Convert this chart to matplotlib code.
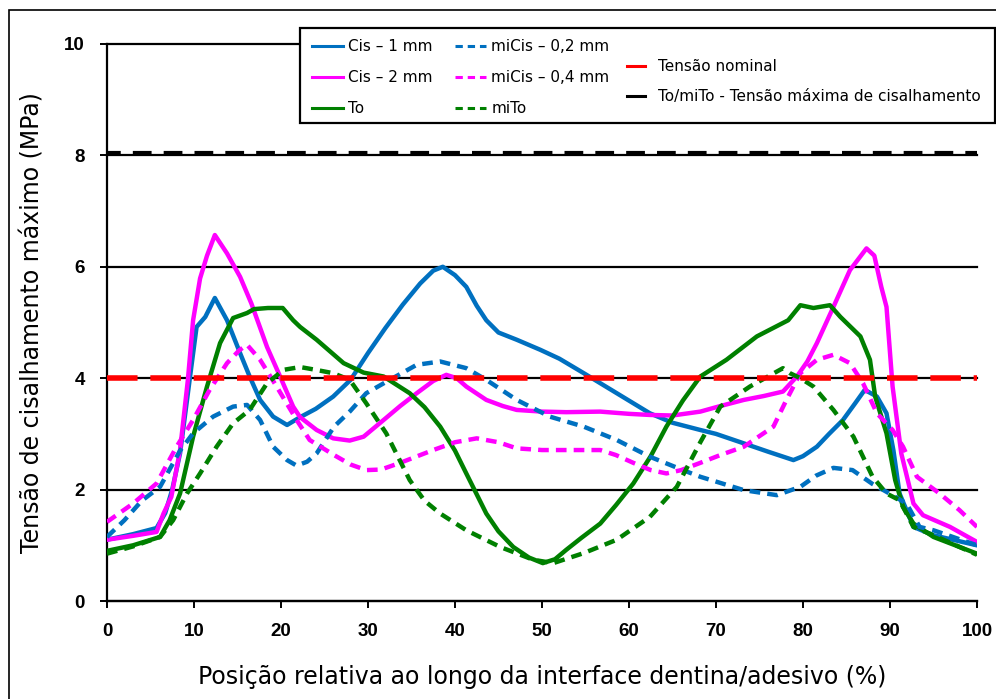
import matplotlib
matplotlib.use('Agg')
import matplotlib.pyplot as plt
from matplotlib.lines import Line2D
from matplotlib.patches import Rectangle

# shear stress along the dentin/adhesive interface
cis1_x = [0, 3, 5.7, 6.7, 7.5, 8.4, 9.5, 10.3, 11.3, 12.4, 13.8, 15.3, 16.4, 17.6, 19.1,
          20.7, 22.2, 24, 26, 28, 30, 32, 34, 36, 37.5, 38.6, 40, 41.3, 42.5, 43.6, 45,
          47.1, 49.8, 52, 54.8, 58.6, 62.4, 65, 68.2, 70, 73.2, 76, 78.9, 80, 81.6, 83,
          84.6, 86, 87.1, 88.5, 89.6, 90.4, 91.1, 92.7, 95, 100]
cis1_y = [1.1, 1.2, 1.31, 1.58, 2.0, 2.65, 3.97, 4.92, 5.1, 5.44, 5.04, 4.45, 4.03, 3.61, 3.31,
          3.16, 3.3, 3.45, 3.67, 3.97, 4.45, 4.9, 5.32, 5.7, 5.93, 6.0, 5.85, 5.64, 5.3, 5.04, 4.82,
          4.69, 4.51, 4.35, 4.09, 3.73, 3.37, 3.2, 3.07, 3.0, 2.83, 2.68, 2.53, 2.6, 2.77, 3.0,
          3.25, 3.55, 3.79, 3.67, 3.37, 2.7, 1.93, 1.33, 1.18, 1.0]

cis2_x = [0, 3, 5.7, 6.5, 7.4, 8.4, 9.3, 9.9, 10.7, 11.5, 12.4, 13.8, 15.3, 16.6, 18.4,
          19.9, 21.4, 22.2, 24.1, 26, 27.9, 29.5, 31.8, 33.7, 35.6, 37.5, 39.0, 40.2, 41.3,
          43.6, 45.5, 47.1, 50, 52.8, 56.7, 60, 62.4, 65, 68.2, 70.5, 73.2, 75.5, 77.7, 79.3,
          80.5, 81.6, 83.5, 85.4, 87.3, 88.2, 89.0, 89.6, 90.3, 91.3, 92.7, 93.8, 96.9, 100]
cis2_y = [1.1, 1.17, 1.24, 1.57, 1.87, 2.71, 3.97, 5.04, 5.79, 6.2, 6.57, 6.24, 5.82, 5.34, 4.56,
          4.03, 3.49, 3.3, 3.07, 2.92, 2.88, 2.95, 3.25, 3.5, 3.73, 3.95, 4.06, 4.0, 3.85,
          3.61, 3.5, 3.43, 3.4, 3.39, 3.4, 3.36, 3.34, 3.33, 3.4, 3.5, 3.61, 3.68, 3.76, 4.03,
          4.3, 4.63, 5.28, 5.94, 6.33, 6.2, 5.64, 5.28, 3.85, 2.65, 1.75, 1.54, 1.33, 1.06]

to_x = [0, 3, 6.1, 7.2, 8.4, 9.9, 11.5, 13.0, 14.5, 16.1, 16.9, 18.5, 20.2, 21.4, 22.2, 24.1,
        27.2, 29.5, 31.8, 34.8, 36.5, 38.3, 40, 41.3, 43.6, 45, 46.7, 48.5, 50.1, 51.5, 52.8,
        54.5, 56.7, 58.5, 60.5, 62.5, 64.3, 66.2, 68.2, 71.2, 74.7, 78.3, 79.7, 81.2, 83.1,
        84.3, 86.6, 87.7, 88.3, 89.6, 90.6, 91.5, 92.7, 95, 100]
to_y = [0.9, 1.0, 1.15, 1.45, 1.93, 2.95, 3.85, 4.63, 5.08, 5.17, 5.24, 5.26, 5.26, 5.04, 4.92, 4.69,
        4.27, 4.1, 4.03, 3.73, 3.48, 3.13, 2.7, 2.29, 1.57, 1.25, 0.97, 0.78, 0.68, 0.75, 0.92,
        1.13, 1.39, 1.72, 2.11, 2.6, 3.13, 3.6, 4.03, 4.33, 4.75, 5.04, 5.31, 5.26, 5.31,
        5.1, 4.75, 4.33, 3.67, 3.01, 2.17, 1.69, 1.39, 1.15, 0.85]

micis02_x = [0, 2, 4, 6.1, 8.4, 9.9, 12.2, 14.5, 16.1, 17.6, 19.1, 20.7, 21.8, 23, 24.1, 26.1,
             27.9, 29.8, 32.5, 35.6, 38.3, 41.3, 43.6, 47.1, 50.9, 54.8, 58.6, 62.4, 66.2,
             68.2, 70.5, 73.2, 77, 79.7, 81.5, 83.5, 85.7, 88, 89.6, 91.9, 93.4, 95, 100]
micis02_y = [1.15, 1.45, 1.8, 2.05, 2.7, 3.01, 3.31, 3.49, 3.52, 3.25, 2.77, 2.53, 2.43, 2.5, 2.65, 3.13,
             3.4, 3.73, 3.97, 4.24, 4.3, 4.18, 3.97, 3.61, 3.31, 3.13, 2.89, 2.59, 2.35,
             2.23, 2.12, 1.99, 1.9, 2.05, 2.25, 2.39, 2.35, 2.1, 1.96, 1.75, 1.33, 1.27, 1.0]

micis04_x = [0, 3, 5.7, 8.0, 9.9, 11.8, 13.8, 15.2, 16.1, 17.6, 19.5, 21.8, 23.3, 26.1, 28,
             29.8, 31.5, 33.7, 37.5, 40, 42.5, 45, 47.1, 50, 52.8, 56.7, 58.5, 60.5, 62.5,
             64.3, 66, 68.2, 70.5, 73.2, 76.6, 78.1, 79.7, 81.6, 83.5, 85.4, 86.9, 88.5, 90.3,
             91.5, 93.1, 95.7, 98, 100]
micis04_y = [1.42, 1.75, 2.11, 2.77, 3.25, 3.79, 4.27, 4.5, 4.6, 4.33, 3.85, 3.25, 2.89, 2.62, 2.45,
             2.35, 2.36, 2.48, 2.71, 2.85, 2.92, 2.85, 2.74, 2.71, 2.71, 2.71, 2.62, 2.48, 2.35,
             2.29, 2.35, 2.48, 2.62, 2.77, 3.13, 3.61, 4.09, 4.33, 4.42, 4.27, 3.91, 3.37, 3.07,
             2.77, 2.23, 1.93, 1.63, 1.33]

mito_x = [0, 3, 6.1, 7.6, 9.2, 10.7, 12.6, 14.5, 16.4, 18.4, 20.3, 22.2, 24, 26, 27.9, 29.8,
          32.1, 34.8, 36.5, 38.3, 41.3, 45.2, 49, 51.3, 54.8, 58.6, 62.4, 65.5, 68.2, 70.5,
          73.9, 77.7, 78.5, 79.7, 81.2, 83.5, 85.8, 88, 89.6, 91.1, 92.7, 95, 100]
mito_y = [0.85, 0.98, 1.15, 1.45, 1.93, 2.29, 2.77, 3.19, 3.43, 3.91, 4.15, 4.2, 4.15, 4.09, 3.97, 3.55,
          3.01, 2.17, 1.8, 1.57, 1.27, 0.97, 0.74, 0.68, 0.86, 1.1, 1.51, 2.05, 2.85, 3.49,
          3.85, 4.18, 4.09, 4.0, 3.85, 3.43, 2.95, 2.23, 1.93, 1.81, 1.33, 1.18, 0.83]

tensao_nominal = 4.0
tensao_max = 8.05

labels = ['Cis – 1 mm', 'Cis – 2 mm', 'To',
          'miCis – 0,2 mm', 'miCis – 0,4 mm', 'miTo']
ref_labels = ['Tensão nominal', 'To/miTo - Tensão máxima de cisalhamento']

blue = '#0070C0'
magenta = '#FF00FF'
green = '#008000'
lw = 3.2
dash = (0, (2.4, 1.6))

fig = plt.figure(figsize=(9.96, 6.99), dpi=100)
ax = fig.add_axes([0.1074, 0.1402, 0.8735, 0.7969])

series = [
    (cis1_x, cis1_y, blue, '-'),
    (cis2_x, cis2_y, magenta, '-'),
    (to_x, to_y, green, '-'),
    (micis02_x, micis02_y, blue, dash),
    (micis04_x, micis04_y, magenta, dash),
    (mito_x, mito_y, green, dash),
]
for xs, ys, c, ls in series:
    ax.plot(xs, ys, color=c, ls=ls, lw=lw, zorder=3)

ax.axhline(tensao_nominal, color='red', lw=4, ls=(0, (5.5, 2.3)), zorder=4)
ax.axhline(tensao_max, color='black', lw=3, ls=(1.2, (4.5, 2.9)), zorder=4)

ax.set_xlim(0, 100)
ax.set_ylim(0, 10)
ax.set_xticks(range(0, 101, 10))
ax.set_yticks(range(0, 11, 2))
ax.yaxis.grid(True, color='black', lw=1.6, zorder=1)
ax.set_axisbelow(True)
for gl in ax.get_ygridlines():
    gl.set_clip_on(False)
for s in ['top', 'right']:
    ax.spines[s].set_visible(False)
for s in ['left', 'bottom']:
    ax.spines[s].set_linewidth(1.6)
ax.tick_params(direction='out', length=5, width=1.4, pad=11)
for lab in ax.get_xticklabels() + ax.get_yticklabels():
    lab.set_fontfamily('Liberation Sans')
    lab.set_fontweight('bold')
    lab.set_fontsize(13.5)

ax.set_xlabel('Posição relativa ao longo da interface dentina/adesivo (%)',
              fontsize=17, labelpad=18)
ax.set_ylabel('Tensão de cisalhamento máximo (MPa)', fontsize=17, labelpad=14)

# outer frame and legend box
fig.patches.append(Rectangle((9 / 996, -0.1), 1.2, 1.1 - 10 / 699, transform=fig.transFigure,
                             fill=False, ec='black', lw=1.2, zorder=0))
fig.patches.append(Rectangle((300 / 996, 1 - 123 / 699), 695 / 996, 95 / 699,
                             transform=fig.transFigure, fc='white', ec='black', lw=1.6, zorder=5))

handles = [Line2D([], [], color=c, ls=ls, lw=2.2) for _, _, c, ls in series]
leg1 = fig.legend(handles, labels, ncol=2, loc='upper left',
                  bbox_to_anchor=(312 / 996, 1 - 39 / 699), frameon=False, fontsize=11,
                  handlelength=2.0, handletextpad=0.35, columnspacing=1.5,
                  labelspacing=1.05, borderpad=0, borderaxespad=0)
leg1.set_zorder(6)
ref_handles = [Line2D([], [], color='red', lw=2.2), Line2D([], [], color='black', lw=2.2)]
leg2 = fig.legend(ref_handles, ref_labels, loc='upper left',
                  bbox_to_anchor=(627 / 996, 1 - 59 / 699), frameon=False, fontsize=11,
                  handlelength=1.2, handletextpad=0.8, labelspacing=0.98,
                  borderpad=0, borderaxespad=0)
leg2.set_zorder(6)

fig.savefig('out.png', dpi=100)
